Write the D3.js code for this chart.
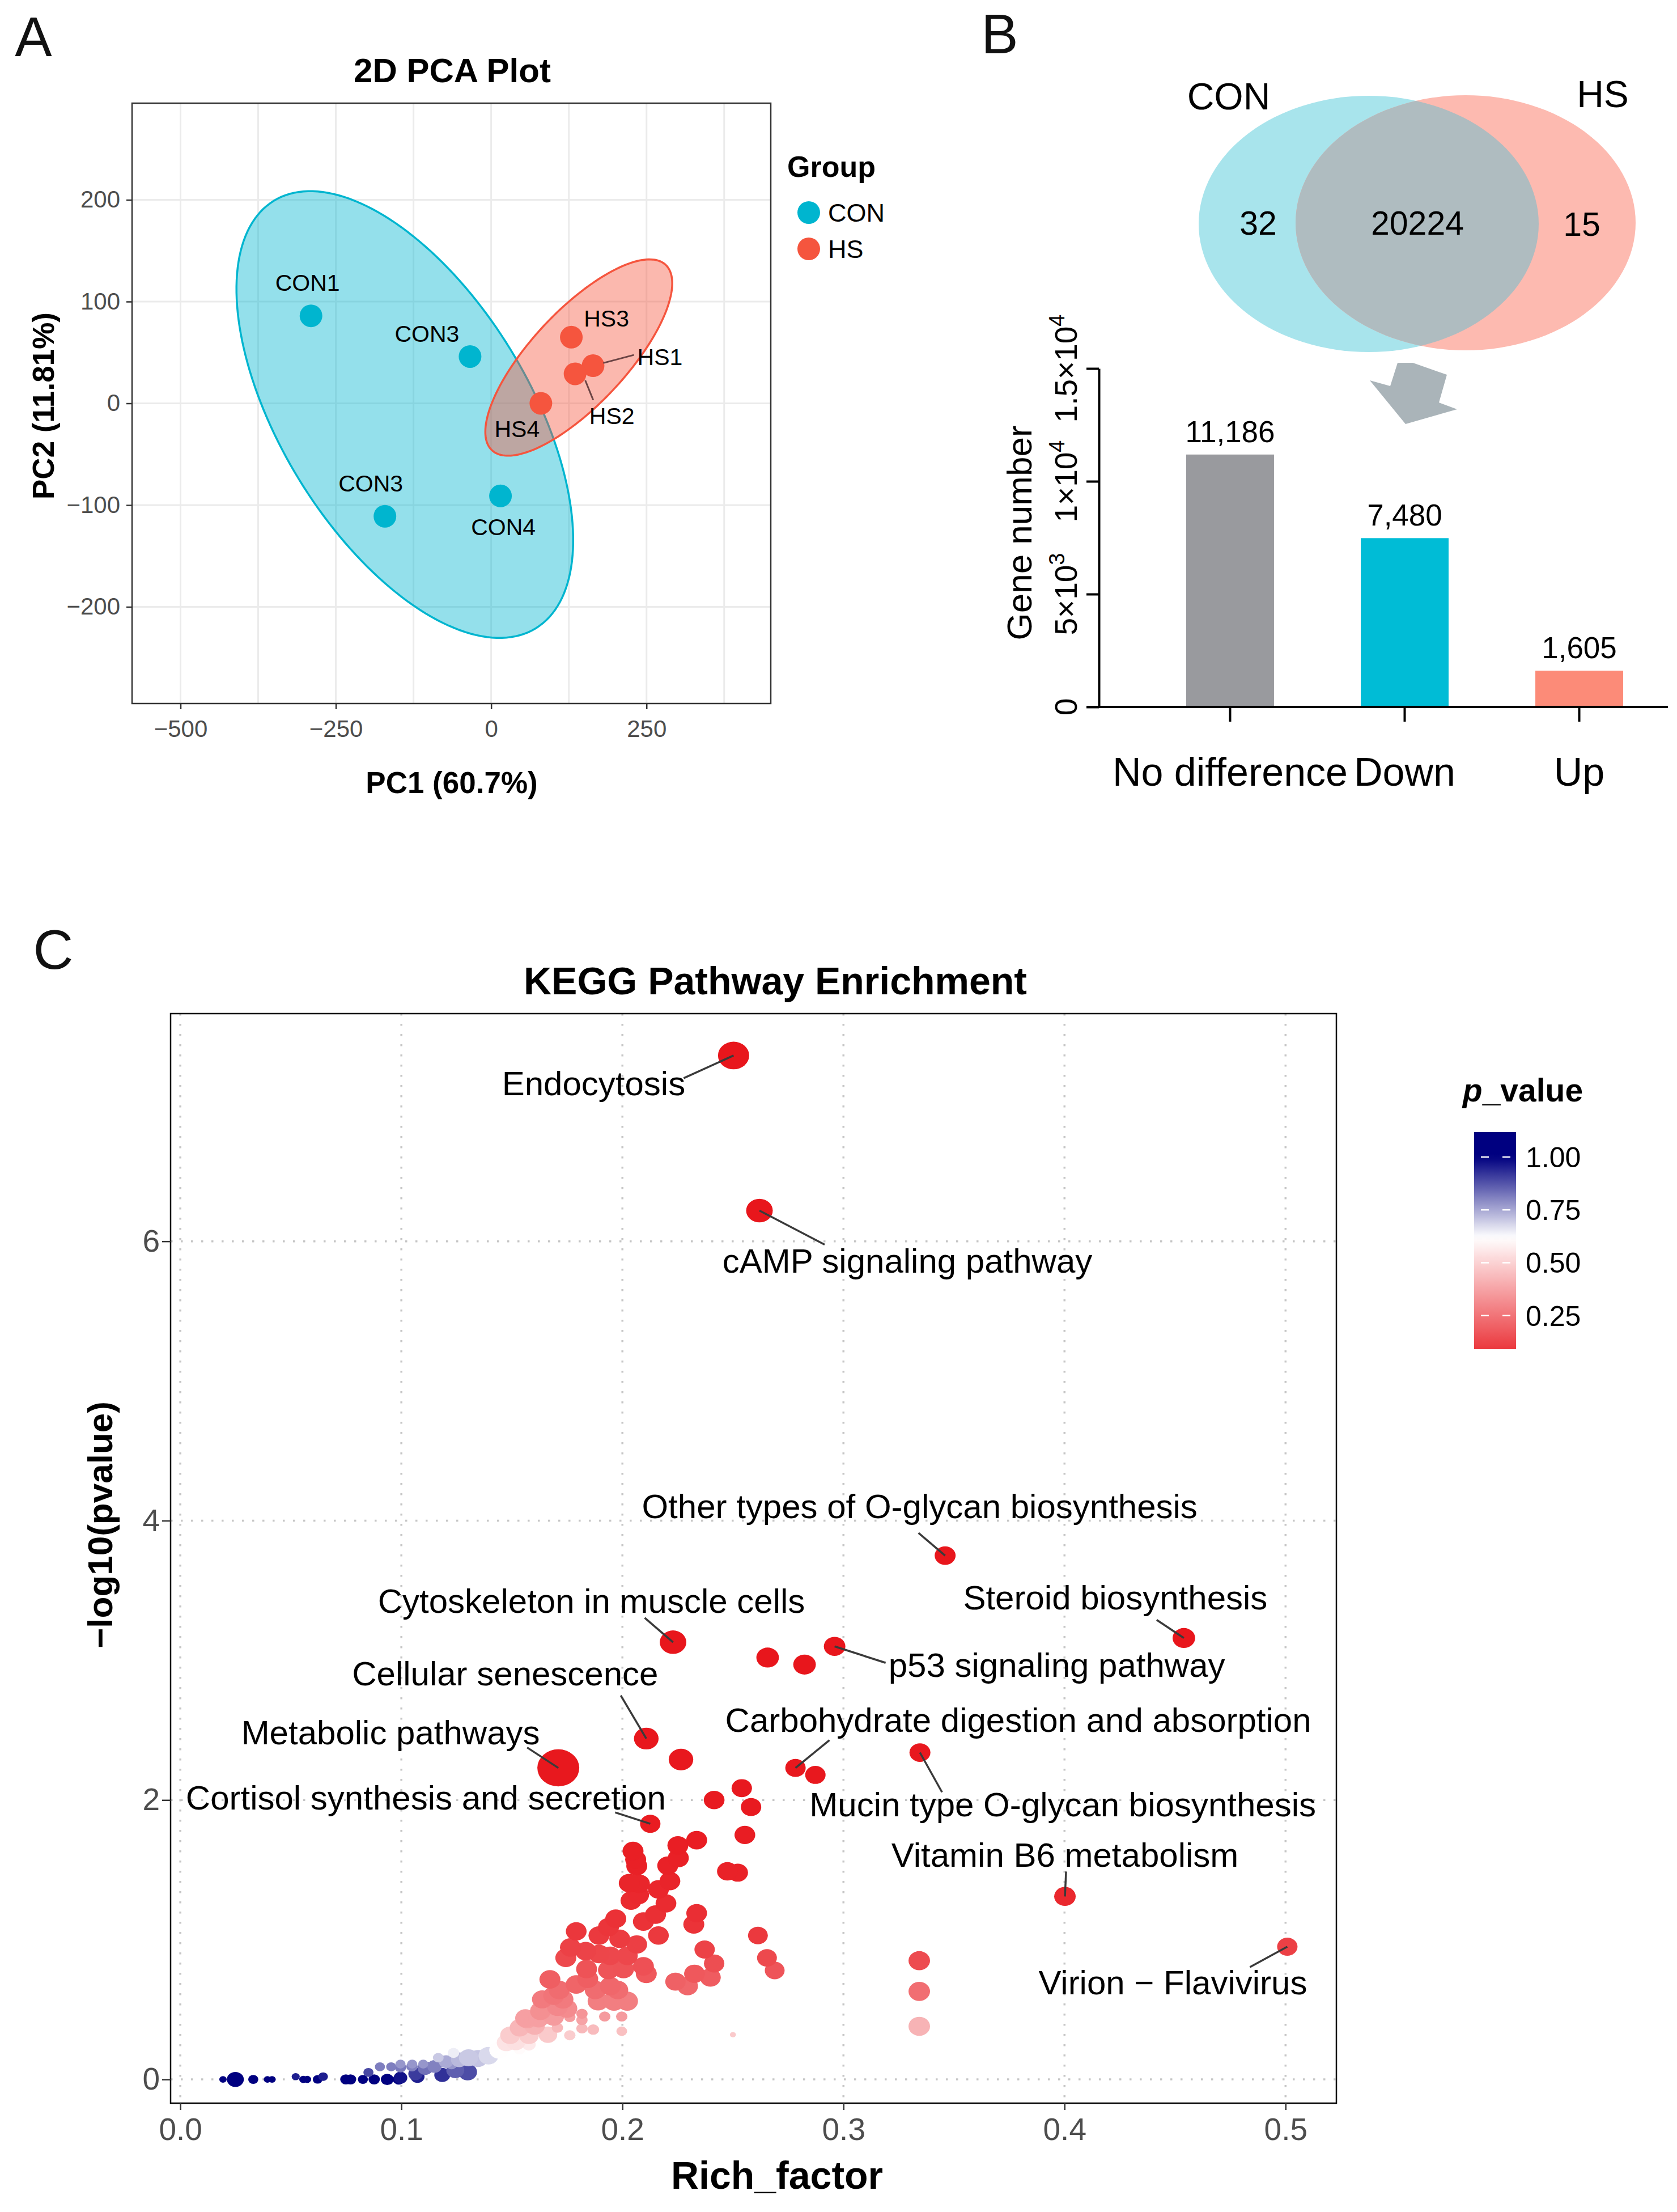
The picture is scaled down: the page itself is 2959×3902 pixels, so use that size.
<!DOCTYPE html>
<html>
<head>
<meta charset="utf-8">
<script src="https://cdnjs.cloudflare.com/ajax/libs/d3/7.8.5/d3.min.js"></script>
<style>
  body { margin: 0; background: #fff; }
  svg { display: block; }
  text { font-family: "Liberation Sans", Arial, Helvetica, sans-serif; }
</style>
</head>
<body>
<script>
// ---------------- data ----------------
// A: PCA
const pcaSamples = ["CON1", "CON3", "CON3", "CON4", "HS3", "HS1", "HS2", "HS4"];
const pcaGroup   = ["CON", "CON", "CON", "CON", "HS", "HS", "HS", "HS"];
const pc1 = [-290, -34, -171, 15, 129, 164, 135, 80];
const pc2 = [86, 46, -111, -91, 65, 37, 29, 0];
const pcaXTicks = [-500, -250, 0, 250];
const pcaYTicks = [-200, -100, 0, 100, 200];
// confidence ellipses: centre and two conjugate semi-axes, in PC units
const ellGroups = ["CON", "HS"];
const ellCentre = [[-139, -11], [141, 45]];
const ellAxisU  = [[211, -210], [140, 91]];
const ellAxisV  = [[-170, -64], [55, -32]];

// B: Venn + DEG bars
const vennSets    = ["CON", "HS"];
const vennRegions = ["CON only", "shared", "HS only"];
const vennValues  = [32, 20224, 15];
const degCats   = ["No difference", "Down", "Up"];
const degValues = [11186, 7480, 1605];
const degTicks  = [0, 5000, 10000, 15000];
const degTickLabels = [["0", ""], ["5×10", "3"], ["1×10", "4"], ["1.5×10", "4"]];

// C: KEGG enrichment (first 13 are labelled)
const keggTerms = ["Endocytosis", "cAMP signaling pathway", "Other types of O-glycan biosynthesis",
  "Steroid biosynthesis", "p53 signaling pathway", "Cytoskeleton in muscle cells",
  "Cellular senescence", "Metabolic pathways", "Carbohydrate digestion and absorption",
  "Mucin type O-glycan biosynthesis", "Cortisol synthesis and secretion",
  "Vitamin B6 metabolism", "Virion − Flavivirus"];
const keggRich = [0.2503, 0.262, 0.346, 0.454, 0.296, 0.2229, 0.2108, 0.171, 0.2783, 0.3346, 0.2126, 0.4002, 0.5008,
  0.2657, 0.2824, 0.2265, 0.2873, 0.2415, 0.2540, 0.2582, 0.2554, 0.2336, 0.2251, 0.2253, 0.2205, 0.2048, 0.2060,
  0.2065, 0.2215, 0.2163, 0.2031, 0.2077, 0.2039, 0.2073, 0.2197, 0.2150, 0.2095, 0.2163, 0.2336, 0.2323, 0.2475,
  0.2522, 0.2613, 0.2654, 0.2689, 0.3343, 0.3343, 0.3343, 0.2500, 0.1970, 0.1937, 0.1894, 0.2065, 0.1988, 0.2372,
  0.1791, 0.1765, 0.1744, 0.1834, 0.1894, 0.1945, 0.2022, 0.1838, 0.1937, 0.2005, 0.2095, 0.2108, 0.2415, 0.2398,
  0.2326, 0.2240, 0.2295, 0.1672, 0.1791, 0.1843, 0.1877, 0.1945, 0.1979, 0.1714, 0.1637, 0.1689, 0.1731, 0.1890,
  0.1962, 0.2022, 0.1629, 0.1706, 0.1749, 0.1561, 0.1621, 0.1689, 0.1762, 0.1817, 0.1817, 0.1920, 0.1997, 0.1535,
  0.1603, 0.1706, 0.1817, 0.1868, 0.1997, 0.1762, 0.1569, 0.1492, 0.1577, 0.1663, 0.1475, 0.1518, 0.1577, 0.1535,
  0.1441, 0.1394, 0.1347, 0.1304, 0.1262, 0.1300, 0.1244, 0.1202, 0.1185, 0.1150, 0.1108, 0.1064, 0.1048, 0.0996,
  0.0996, 0.0193, 0.0249, 0.0330, 0.0394, 0.0415, 0.0522, 0.0556, 0.0574, 0.0621, 0.0646, 0.0749, 0.0770, 0.0826,
  0.0851, 0.0877, 0.0903, 0.0936, 0.0954, 0.0988, 0.0996, 0.1049, 0.1073, 0.1099, 0.1167, 0.1236, 0.1227];
const keggLogP = [7.33, 6.22, 3.75, 3.16, 3.10, 3.13, 2.44, 2.23, 2.23, 2.34, 1.83, 1.31, 0.95,
  3.02, 2.97, 2.29, 2.18, 2.00, 2.085, 1.95, 1.75, 1.713, 1.675, 1.585, 1.53, 1.635, 1.574,
  1.527, 1.42, 1.36, 1.405, 1.40, 1.28, 1.32, 1.26, 1.18, 1.13, 1.03, 1.19, 1.11, 1.49,
  1.48, 1.03, 0.87, 0.78, 0.85, 0.63, 0.38, 0.32, 1.15, 1.09, 1.03, 0.966, 1.006, 0.93,
  1.06, 0.945, 0.87, 0.918, 0.898, 0.885, 0.885, 0.79, 0.783, 0.79, 0.81, 0.756, 0.83, 0.73,
  0.756, 0.70, 0.668, 0.716, 0.68, 0.72, 0.64, 0.668, 0.64, 0.64, 0.573, 0.60, 0.573, 0.56,
  0.56, 0.56, 0.49, 0.52, 0.507, 0.438, 0.438, 0.45, 0.446, 0.47, 0.425, 0.45, 0.45, 0.37,
  0.384, 0.37, 0.365, 0.357, 0.345, 0.316, 0.43, 0.316, 0.316, 0.32, 0.263, 0.27, 0.25, 0.216,
  0.21, 0.17, 0.15, 0.155, 0.14, 0.053, 0.066, 0.127, 0.032, 0.093, 0.08, 0.04, 0.093, 0.012,
  0.086, 0, 0, 0, 0, 0, 0.02, 0, 0, 0, 0.02, 0, 0, 0,
  0.05, 0, 0.09, 0, 0.09, 0, 0.11, 0.11, 0.02, 0.11, 0.155, 0.19, 0.11];
const keggCount = [210, 153, 95, 110, 100, 153, 131, 380, 90, 95, 90, 100, 90,
  110, 110, 130, 90, 93, 90, 90, 93, 95, 95, 95, 95, 95, 95,
  95, 93, 95, 95, 95, 95, 95, 93, 95, 95, 93, 93, 95, 93,
  90, 85, 85, 85, 100, 100, 100, 8, 95, 95, 95, 93, 95, 90,
  93, 95, 95, 95, 95, 95, 95, 95, 95, 95, 95, 95, 90, 93,
  93, 90, 93, 95, 95, 95, 95, 95, 95, 95, 90, 95, 95, 95,
  100, 100, 93, 95, 93, 90, 93, 93, 28, 28, 28, 28, 28, 85,
  90, 28, 28, 30, 25, 28, 90, 85, 85, 75, 80, 80, 40, 30,
  80, 85, 80, 80, 60, 76, 70, 45, 55, 45, 50, 45, 28, 40,
  28, 12, 62, 22, 12, 12, 14, 14, 14, 20, 20, 28, 28, 22,
  22, 28, 22, 35, 22, 30, 22, 22, 43, 22, 25, 28, 30];
const richTicks = [0, 0.1, 0.2, 0.3, 0.4, 0.5];
const logpTicks = [0, 2, 4, 6];
const pLegendTicks = [0.25, 0.50, 0.75, 1.00];

// ---------------- canvas ----------------
const W = 2959, H = 3902;
const svg = d3.select("body").append("svg")
  .attr("width", W).attr("height", H).attr("viewBox", `0 0 ${W} ${H}`);
svg.append("rect").attr("width", W).attr("height", H).attr("fill", "#fff");

function letter(t, x, y) {
  svg.append("text").attr("x", x).attr("y", y).attr("font-size", 98)
    .attr("text-anchor", "middle").attr("fill", "#111").text(t);
}
letter("A", 59, 99);
letter("B", 1764, 94);
letter("C", 94, 1709);

// ---------------- panel A ----------------
const conCol = "#00B5CF", hsCol = "#F5553E";
const grpCol = g => g === "CON" ? conCol : hsCol;
const ax = d3.scaleLinear().domain([-578, 450]).range([233, 1360]);
const ay = d3.scaleLinear().domain([-295, 295]).range([1241, 182]);
const gA = svg.append("g");

gA.selectAll(".gx").data(d3.range(-500, 451, 125)).join("line")
  .attr("x1", d => ax(d)).attr("x2", d => ax(d)).attr("y1", 182).attr("y2", 1241)
  .attr("stroke", "#EBEBEB").attr("stroke-width", 3);
gA.selectAll(".gy").data(pcaYTicks).join("line")
  .attr("y1", d => ay(d)).attr("y2", d => ay(d)).attr("x1", 233).attr("x2", 1360)
  .attr("stroke", "#EBEBEB").attr("stroke-width", 3);

const ellLine = d3.line().x(d => ax(d[0])).y(d => ay(d[1])).curve(d3.curveLinearClosed);
ellGroups.forEach((g, i) => {
  const pts = d3.range(0, 2 * Math.PI, Math.PI / 90).map(t => [
    ellCentre[i][0] + Math.cos(t) * ellAxisU[i][0] + Math.sin(t) * ellAxisV[i][0],
    ellCentre[i][1] + Math.cos(t) * ellAxisU[i][1] + Math.sin(t) * ellAxisV[i][1]]);
  gA.append("path").attr("d", ellLine(pts))
    .attr("fill", grpCol(g)).attr("fill-opacity", 0.42)
    .attr("stroke", grpCol(g)).attr("stroke-width", 3.5);
});

gA.selectAll(".pt").data(pcaSamples).join("circle")
  .attr("cx", (d, i) => ax(pc1[i])).attr("cy", (d, i) => ay(pc2[i])).attr("r", 20)
  .attr("fill", (d, i) => grpCol(pcaGroup[i]));

// sample label placement (pixel offsets from the point)
const pcaLab = [[-6, -44], [-76, -26], [-25, -44], [5, 69], [62, -19], [118, -1], [65, 89], [-42, 59]];
const pcaSeg = [null, null, null, null, null, [72, -19], [32, 46], null];
pcaSamples.forEach((s, i) => {
  const px = ax(pc1[i]), py = ay(pc2[i]);
  if (pcaSeg[i]) {
    gA.append("line").attr("x1", px + (pcaSeg[i][0] > 0 ? 18 : 12)).attr("y1", py + pcaSeg[i][1] * 0.25)
      .attr("x2", px + pcaSeg[i][0]).attr("y2", py + pcaSeg[i][1])
      .attr("stroke", "#6B4444").attr("stroke-width", 3);
  }
  gA.append("text").attr("x", px + pcaLab[i][0]).attr("y", py + pcaLab[i][1])
    .attr("text-anchor", "middle").attr("font-size", 41).text(s);
});

gA.append("rect").attr("x", 233).attr("y", 182).attr("width", 1127).attr("height", 1059)
  .attr("fill", "none").attr("stroke", "#333").attr("stroke-width", 2.5);

const axA = gA.append("g").attr("transform", "translate(0,1241)")
  .call(d3.axisBottom(ax).tickValues(pcaXTicks).tickSize(10).tickPadding(19));
const ayA = gA.append("g").attr("transform", "translate(233,0)")
  .call(d3.axisLeft(ay).tickValues(pcaYTicks).tickSize(10).tickPadding(11));
[axA, ayA].forEach(a => {
  a.select(".domain").remove();
  a.selectAll("line").attr("stroke", "#333").attr("stroke-width", 2.5);
  a.selectAll("text").attr("font-size", 42).attr("fill", "#4D4D4D")
    .style("font-family", '"Liberation Sans", Arial, sans-serif');
});

gA.append("text").attr("x", 798).attr("y", 145).attr("text-anchor", "middle")
  .attr("font-size", 60).attr("font-weight", "bold").text("2D PCA Plot");
gA.append("text").attr("x", 797).attr("y", 1399).attr("text-anchor", "middle")
  .attr("font-size", 53).attr("font-weight", "bold").text("PC1 (60.7%)");
gA.append("text").attr("transform", "translate(95,716) rotate(-90)").attr("text-anchor", "middle")
  .attr("font-size", 53).attr("font-weight", "bold").text("PC2 (11.81%)");

gA.append("text").attr("x", 1389).attr("y", 312).attr("font-size", 52)
  .attr("font-weight", "bold").text("Group");
ellGroups.forEach((g, i) => {
  gA.append("circle").attr("cx", 1427).attr("cy", 375 + i * 64).attr("r", 20).attr("fill", grpCol(g));
  gA.append("text").attr("x", 1461).attr("y", 375 + i * 64 + 16).attr("font-size", 45).text(g);
});

// ---------------- panel B ----------------
const gB = svg.append("g");
const venn = [{ cx: 2415, cy: 395, rx: 300, ry: 226 }, { cx: 2586, cy: 393, rx: 300, ry: 225 }];
const vennFill = ["#A8E4EC", "#FDBAB0"];
gB.append("clipPath").attr("id", "conClip").append("ellipse")
  .attr("cx", venn[0].cx).attr("cy", venn[0].cy).attr("rx", venn[0].rx).attr("ry", venn[0].ry);
venn.forEach((e, i) => gB.append("ellipse").attr("cx", e.cx).attr("cy", e.cy)
  .attr("rx", e.rx).attr("ry", e.ry).attr("fill", vennFill[i]));
gB.append("ellipse").attr("cx", venn[1].cx).attr("cy", venn[1].cy)
  .attr("rx", venn[1].rx).attr("ry", venn[1].ry).attr("fill", "#AFBCC0")
  .attr("clip-path", "url(#conClip)");
const vennSetPos = [[2168, 193], [2828, 189]];
vennSets.forEach((s, i) => gB.append("text").attr("x", vennSetPos[i][0]).attr("y", vennSetPos[i][1])
  .attr("text-anchor", "middle").attr("font-size", 66).text(s));
const vennNumPos = [[2220, 414], [2501, 414], [2791, 416]];
vennValues.forEach((v, i) => gB.append("text").attr("x", vennNumPos[i][0]).attr("y", vennNumPos[i][1])
  .attr("text-anchor", "middle").attr("font-size", 59).text(v));

// arrow from venn to bar chart
const arrowShape = [[49, -68], [76, -68], [136, -47], [122, 2], [154, 14], [63, 40], [0, -37], [36, -27]];
gB.append("path").attr("transform", "translate(2417,708)")
  .attr("d", d3.line()(arrowShape) + "Z").attr("fill", "#AAB4B9");

const bx = d3.scaleBand().domain(degCats).range([1939, 3018]).paddingInner(0.497).paddingOuter(0.5);
const by = d3.scaleLinear().domain([0, 15000]).range([1247, 650]);
const degCol = ["#999A9E", "#00BCD6", "#FC8B78"];
gB.selectAll(".bar").data(degValues).join("rect")
  .attr("x", (d, i) => bx(degCats[i])).attr("width", bx.bandwidth())
  .attr("y", d => by(d)).attr("height", d => by(0) - by(d))
  .attr("fill", (d, i) => degCol[i]);
gB.selectAll(".val").data(degValues).join("text")
  .attr("x", (d, i) => bx(degCats[i]) + bx.bandwidth() / 2).attr("y", d => by(d) - 22)
  .attr("text-anchor", "middle").attr("font-size", 53).text(d => d3.format(",")(d));

const byAxis = gB.append("g").attr("transform", "translate(1939,0)")
  .call(d3.axisLeft(by).tickValues(degTicks).tickSize(22).tickSizeOuter(0).tickFormat(""));
byAxis.select(".domain").attr("stroke", "#000").attr("stroke-width", 4);
byAxis.selectAll("line").attr("stroke", "#000").attr("stroke-width", 4);
gB.append("line").attr("x1", 1917).attr("x2", 2943).attr("y1", by(0)).attr("y2", by(0))
  .attr("stroke", "#000").attr("stroke-width", 4);
const bxAxis = gB.append("g").attr("transform", `translate(0,${by(0)})`)
  .call(d3.axisBottom(bx).tickSize(26).tickSizeOuter(0).tickFormat(""));
bxAxis.select(".domain").remove();
bxAxis.selectAll("line").attr("stroke", "#000").attr("stroke-width", 4);

degTicks.forEach((t, i) => {
  const tx = gB.append("text").attr("transform", `translate(1900,${by(t)}) rotate(-90)`)
    .attr("text-anchor", "middle").attr("font-size", 55);
  tx.append("tspan").text(degTickLabels[i][0]);
  if (degTickLabels[i][1]) tx.append("tspan").attr("dy", -22).attr("font-size", 38).text(degTickLabels[i][1]);
});
degCats.forEach(c => gB.append("text").attr("x", bx(c) + bx.bandwidth() / 2).attr("y", 1386)
  .attr("text-anchor", "middle").attr("font-size", 70).text(c));
gB.append("text").attr("transform", "translate(1820,940) rotate(-90)").attr("text-anchor", "middle")
  .attr("font-size", 62).text("Gene number");

// ---------------- panel C ----------------
const gC = svg.append("g");
const cx = d3.scaleLinear().domain([-0.0044, 0.523]).range([301, 2358]);
const cy = d3.scaleLinear().domain([-0.17, 7.63]).range([3710, 1788]);
const pcol = d3.scaleLinear().domain([0, 0.62, 1.0]).range(["#E8161C", "#FFFFFF", "#000080"]).clamp(true);
const rsize = d3.scaleSqrt().domain([0, 380]).range([0, 37]);

gC.selectAll(".gx").data(richTicks).join("line")
  .attr("x1", d => cx(d)).attr("x2", d => cx(d)).attr("y1", 1788).attr("y2", 3710)
  .attr("stroke", "#C6C6C6").attr("stroke-width", 3.5).attr("stroke-dasharray", "3.5,14.5");
gC.selectAll(".gy").data(logpTicks).join("line")
  .attr("y1", d => cy(d)).attr("y2", d => cy(d)).attr("x1", 301).attr("x2", 2358)
  .attr("stroke", "#C6C6C6").attr("stroke-width", 3.5).attr("stroke-dasharray", "3.5,14.5");

const kegg = keggRich.map((r, i) => ({ i, r, y: keggLogP[i], n: keggCount[i], p: Math.pow(10, -keggLogP[i]) }));
const order = kegg.slice().sort((a, b) => d3.descending(a.p, b.p));
gC.selectAll(".kp").data(order).join("ellipse")
  .attr("cx", d => cx(d.r)).attr("cy", d => cy(d.y))
  .attr("rx", d => rsize(d.n)).attr("ry", d => rsize(d.n) / 1.13)
  .attr("fill", d => pcol(d.p));

// repel-style label placement: text offset and segment end, pixels from the point
const keggLab = [
  [-247, 70, -88, 40], [261, 110, 115, 60], [-45, -66, -47, -40], [-121, -50, -48, -32],
  [392, 54, 90, 29], [-144, -52, -50, -43], [-249, -94, -45, -76], [-296, -42, -55, -36],
  [393, -64, 60, -49], [252, 112, 39, 70], [-396, -25, -62, -20], [0, -52, 2, -44], [-202, 84, -66, 36]];
keggTerms.forEach((t, i) => {
  const px = cx(keggRich[i]), py = cy(keggLogP[i]), L = keggLab[i];
  gC.append("line").attr("x1", px + L[2]).attr("y1", py + L[3]).attr("x2", px).attr("y2", py)
    .attr("stroke", "#3A3A3A").attr("stroke-width", 3.5);
  gC.append("text").attr("x", px + L[0]).attr("y", py + L[1]).attr("text-anchor", "middle")
    .attr("font-size", 60).text(t);
});

gC.append("rect").attr("x", 301).attr("y", 1788).attr("width", 2057).attr("height", 1922)
  .attr("fill", "none").attr("stroke", "#000").attr("stroke-width", 2.5);
const cxAxis = gC.append("g").attr("transform", "translate(0,3710)")
  .call(d3.axisBottom(cx).tickValues(richTicks).tickSize(12).tickPadding(14).tickFormat(d3.format(".1f")));
const cyAxis = gC.append("g").attr("transform", "translate(301,0)")
  .call(d3.axisLeft(cy).tickValues(logpTicks).tickSize(15).tickPadding(4));
[cxAxis, cyAxis].forEach(a => {
  a.select(".domain").remove();
  a.selectAll("line").attr("stroke", "#333").attr("stroke-width", 2.5);
  a.selectAll("text").attr("font-size", 55).attr("fill", "#4D4D4D")
    .style("font-family", '"Liberation Sans", Arial, sans-serif');
});

gC.append("text").attr("x", 1368).attr("y", 1754).attr("text-anchor", "middle")
  .attr("font-size", 68).attr("font-weight", "bold").text("KEGG Pathway Enrichment");
gC.append("text").attr("x", 1371).attr("y", 3861).attr("text-anchor", "middle")
  .attr("font-size", 68).attr("font-weight", "bold").text("Rich_factor");
gC.append("text").attr("transform", "translate(198,2690) rotate(-90)").attr("text-anchor", "middle")
  .attr("font-size", 62).attr("font-weight", "bold").text("−log10(pvalue)");

// colour bar legend
const ly = d3.scaleLinear().domain([0.25, 1.00]).range([2320.7, 2041]);
const barTop = 1997, barBot = 2380;
const grad = svg.append("defs").append("linearGradient").attr("id", "pgrad")
  .attr("x1", 0).attr("y1", 0).attr("x2", 0).attr("y2", 1);
d3.range(0, 41).forEach(k => {
  const yy = barTop + (barBot - barTop) * k / 40;
  grad.append("stop").attr("offset", k / 40).attr("stop-color", pcol(ly.invert(yy)));
});
gC.append("rect").attr("x", 2601).attr("y", barTop).attr("width", 74).attr("height", barBot - barTop)
  .attr("fill", "url(#pgrad)");
pLegendTicks.forEach(v => {
  [[2613, 2627], [2651, 2665]].forEach(s => gC.append("line").attr("x1", s[0]).attr("x2", s[1])
    .attr("y1", ly(v)).attr("y2", ly(v)).attr("stroke", "#fff").attr("stroke-width", 2.5));
  gC.append("text").attr("x", 2692).attr("y", ly(v) + 18).attr("font-size", 50).text(d3.format(".2f")(v));
});
const lt = gC.append("text").attr("x", 2687).attr("y", 1943).attr("text-anchor", "middle")
  .attr("font-size", 57).attr("font-weight", "bold");
lt.append("tspan").attr("font-style", "italic").text("p");
lt.append("tspan").text("_value");
</script>
</body>
</html>
